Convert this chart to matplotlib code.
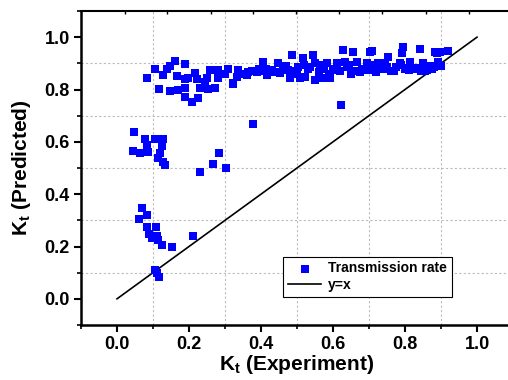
import numpy as np
import matplotlib
matplotlib.use("Agg")
import matplotlib.pyplot as plt
from matplotlib.ticker import MultipleLocator, NullFormatter

plt.rcParams["font.family"] = ["Liberation Sans", "DejaVu Sans"]
plt.rcParams["font.weight"] = "bold"
plt.rcParams["mathtext.fontset"] = "custom"
plt.rcParams["mathtext.rm"] = "Liberation Sans:bold"
plt.rcParams["mathtext.bf"] = "Liberation Sans:bold"
plt.rcParams["mathtext.it"] = "Liberation Sans:bold"

# ── data ────────────────────────────────────────────────────────────────────

kt_exp = [
    # upper-left of the lower branch
    0.047, 0.078, 0.106, 0.128, 0.083, 0.125, 0.044, 0.064, 0.086, 0.119,
    0.114, 0.128, 0.133, 0.231, 0.267, 0.283, 0.303, 0.378,
    # lowest branch
    0.069, 0.061, 0.083, 0.083, 0.108, 0.089, 0.111, 0.097, 0.114, 0.125,
    0.153, 0.211, 0.106, 0.117, 0.111,
    # main band, left part
    0.083, 0.106, 0.128, 0.139, 0.147, 0.161, 0.189, 0.167, 0.189, 0.217,
    0.197, 0.222, 0.258, 0.250, 0.281, 0.308, 0.336, 0.333, 0.361, 0.322,
    0.117, 0.147, 0.169, 0.189, 0.189, 0.208, 0.225, 0.231, 0.253, 0.272,
    # main band, middle
    0.322, 0.364, 0.389, 0.406, 0.417, 0.447, 0.453, 0.486, 0.481, 0.508,
    0.517, 0.503, 0.522, 0.544, 0.550, 0.550, 0.569, 0.536, 0.564, 0.592,
    0.583, 0.611, 0.628, 0.656, 0.667, 0.633, 0.703, 0.694, 0.717, 0.622,
    0.375, 0.395, 0.430, 0.470, 0.492, 0.530, 0.575, 0.600, 0.640, 0.660,
    0.680, 0.700, 0.740, 0.760, 0.775, 0.820, 0.860, 0.870, 0.875, 0.900,
    0.350, 0.400, 0.440, 0.465, 0.500, 0.520, 0.560, 0.590, 0.620, 0.650,
    0.675, 0.690, 0.720, 0.735, 0.770, 0.790, 0.810, 0.830, 0.855, 0.880,
    0.300, 0.280, 0.245, 0.415, 0.475, 0.605, 0.645, 0.745, 0.800, 0.845,
    # main band, right part
    0.725, 0.753, 0.750, 0.794, 0.792, 0.786, 0.814, 0.806, 0.842, 0.836,
    0.850, 0.883, 0.897, 0.919, 0.892, 0.708, 0.889, 0.420, 0.460, 0.345,
]
kt_pred = [
    0.637, 0.610, 0.610, 0.610, 0.588, 0.584, 0.565, 0.557, 0.561, 0.557,
    0.538, 0.523, 0.511, 0.485, 0.515, 0.557, 0.500, 0.668,
    0.347, 0.305, 0.320, 0.275, 0.275, 0.248, 0.240, 0.233, 0.225, 0.206,
    0.200, 0.240, 0.111, 0.084, 0.099,
    0.844, 0.878, 0.855, 0.878, 0.889, 0.908, 0.897, 0.851, 0.840, 0.863,
    0.844, 0.840, 0.874, 0.844, 0.844, 0.878, 0.874, 0.847, 0.855, 0.820,
    0.802, 0.794, 0.798, 0.805, 0.771, 0.752, 0.767, 0.805, 0.802, 0.805,
    0.824, 0.866, 0.866, 0.905, 0.855, 0.900, 0.863, 0.931, 0.844, 0.844,
    0.920, 0.885, 0.847, 0.931, 0.900, 0.836, 0.844, 0.885, 0.893, 0.844,
    0.900, 0.900, 0.950, 0.943, 0.905, 0.905, 0.943, 0.900, 0.893, 0.740,
    0.870, 0.880, 0.875, 0.890, 0.870, 0.880, 0.880, 0.875, 0.885, 0.870,
    0.880, 0.875, 0.880, 0.870, 0.885, 0.880, 0.875, 0.890, 0.880, 0.890,
    0.860, 0.870, 0.865, 0.880, 0.860, 0.895, 0.865, 0.860, 0.870, 0.860,
    0.865, 0.875, 0.865, 0.895, 0.870, 0.895, 0.875, 0.880, 0.870, 0.885,
    0.860, 0.875, 0.830, 0.880, 0.875, 0.880, 0.895, 0.900, 0.880, 0.870,
    0.900, 0.924, 0.885, 0.962, 0.939, 0.900, 0.905, 0.882, 0.954, 0.882,
    0.900, 0.943, 0.943, 0.947, 0.905, 0.947, 0.939, 0.870, 0.880, 0.860,
]

line_x = [0.0, 1.0]
line_y = [0.0, 1.0]

top_ticks = [0.022, 0.139, 0.261, 0.378, 0.497, 0.617, 0.736, 0.858, 0.978]

# ── plot ─────────────────────────────────────────────────────────────────────

fig = plt.figure(figsize=(5.08, 3.80), dpi=100)
ax = fig.add_axes([81 / 508, 1 - 325 / 380, 432 / 508, 314 / 380])

ax.scatter(kt_exp, kt_pred, marker="s", s=36, color="#0000ff",
           linewidths=0, label="Transmission rate", zorder=3)
ax.plot(line_x, line_y, color="black", linewidth=1.2, label="y=x", zorder=2)

ax.set_xlim(-0.1, 1.1)
ax.set_ylim(-0.1, 1.1)
ax.xaxis.set_major_locator(MultipleLocator(0.2))
ax.yaxis.set_major_locator(MultipleLocator(0.2))
ax.xaxis.set_minor_locator(MultipleLocator(0.1))
ax.yaxis.set_minor_locator(MultipleLocator(0.1))
ax.xaxis.set_major_formatter(plt.FormatStrFormatter("%.1f"))
ax.yaxis.set_major_formatter(plt.FormatStrFormatter("%.1f"))
ax.xaxis.set_minor_formatter(NullFormatter())

ax.tick_params(which="major", direction="out", length=5, width=1.5,
               labelsize=13, pad=3, top=False, right=False)
ax.tick_params(which="minor", direction="out", length=3, width=1.2,
               top=False, right=False)

# dotted grid on the odd tenths only
for v in [0.1, 0.3, 0.5, 0.7, 0.9]:
    ax.axvline(v, color="#bbbbbb", linewidth=0.8, linestyle=(0, (2, 2)), zorder=0)
    ax.axhline(v, color="#bbbbbb", linewidth=0.8, linestyle=(0, (2, 2)), zorder=0)

for side in ["left", "bottom"]:
    ax.spines[side].set_linewidth(1.8)
ax.spines["top"].set_linewidth(1.5)
ax.spines["right"].set_linewidth(1.5)

top = ax.secondary_xaxis("top")
top.set_xticks(top_ticks)
top.tick_params(direction="in", length=2.5, width=1, labeltop=False)
top.xaxis.set_minor_locator(plt.NullLocator())
top.spines["top"].set_visible(False)

ax.set_xlabel(r"$\mathbf{K_t}$ (Experiment)", fontsize=15, fontweight="bold",
              labelpad=0)
ax.set_ylabel(r"$\mathbf{K_t}$ (Predicted)", fontsize=15, fontweight="bold",
              labelpad=8)

leg = ax.legend(loc="lower left", bbox_to_anchor=(0.4676, 0.089),
                borderaxespad=0, fontsize=10, frameon=True, fancybox=False,
                framealpha=1, edgecolor="black", handlelength=2.4,
                borderpad=0.35, labelspacing=0.2, handletextpad=0.5,
                markerscale=0.9)
leg.get_frame().set_linewidth(0.8)

fig.savefig("out.png", dpi=100)
